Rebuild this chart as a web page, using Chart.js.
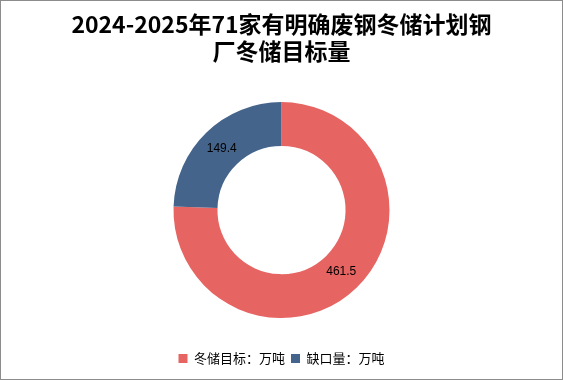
<!DOCTYPE html>
<html lang="zh">
<head>
<meta charset="UTF-8">
<title>冬储目标量</title>
<script src="https://cdn.jsdelivr.net/npm/chart.js"></script>
<style>
    html, body { margin: 0; padding: 0; background: #fff; }
    .frame {
        width: 561px;
        height: 378px;
        border: 1px solid #8c8c8c;
        position: relative;
    }
    canvas { display: block; }
</style>
</head>
<body>
<div class="frame">
    <canvas id="chart" width="561" height="378"></canvas>
</div>
<script>
    const labels = ['冬储目标：万吨', '缺口量：万吨'];
    const values = [461.5, 149.4];
    const colors = ['#E66461', '#44648C'];

    // value labels in the middle of each ring segment
    const ringLabels = {
        id: 'ringLabels',
        afterDatasetsDraw(chart) {
            const ctx = chart.ctx;
            const meta = chart.getDatasetMeta(0);
            ctx.save();
            ctx.font = '12px "Liberation Sans", "Noto Sans", sans-serif';
            ctx.fillStyle = '#000';
            ctx.textAlign = 'center';
            ctx.textBaseline = 'middle';
            meta.data.forEach((arc, i) => {
                const p = arc.tooltipPosition();
                ctx.fillText(values[i].toFixed(1), p.x, p.y);
            });
            ctx.restore();
        }
    };

    new Chart(document.getElementById('chart'), {
        type: 'doughnut',
        data: {
            labels: labels,
            datasets: [{
                data: values,
                backgroundColor: colors,
                borderWidth: 0
            }]
        },
        options: {
            responsive: false,
            animation: false,
            radius: 108,
            cutout: '59.3%',
            layout: { padding: { top: 0, bottom: 4 } },
            plugins: {
                title: {
                    display: true,
                    text: ['2024-2025年71家有明确废钢冬储计划钢', '厂冬储目标量'],
                    color: '#000',
                    font: { family: '"Noto Sans CJK SC", sans-serif', size: 23, weight: 'bold', lineHeight: 1.2 },
                    padding: { top: 9, bottom: 9 }
                },
                legend: {
                    position: 'bottom',
                    labels: {
                        color: '#000',
                        boxWidth: 9,
                        boxHeight: 9,
                        padding: 6,
                        font: { family: '"Noto Sans CJK SC", sans-serif', size: 13 }
                    }
                },
                tooltip: { enabled: false }
            }
        },
        plugins: [ringLabels]
    });
</script>
</body>
</html>
